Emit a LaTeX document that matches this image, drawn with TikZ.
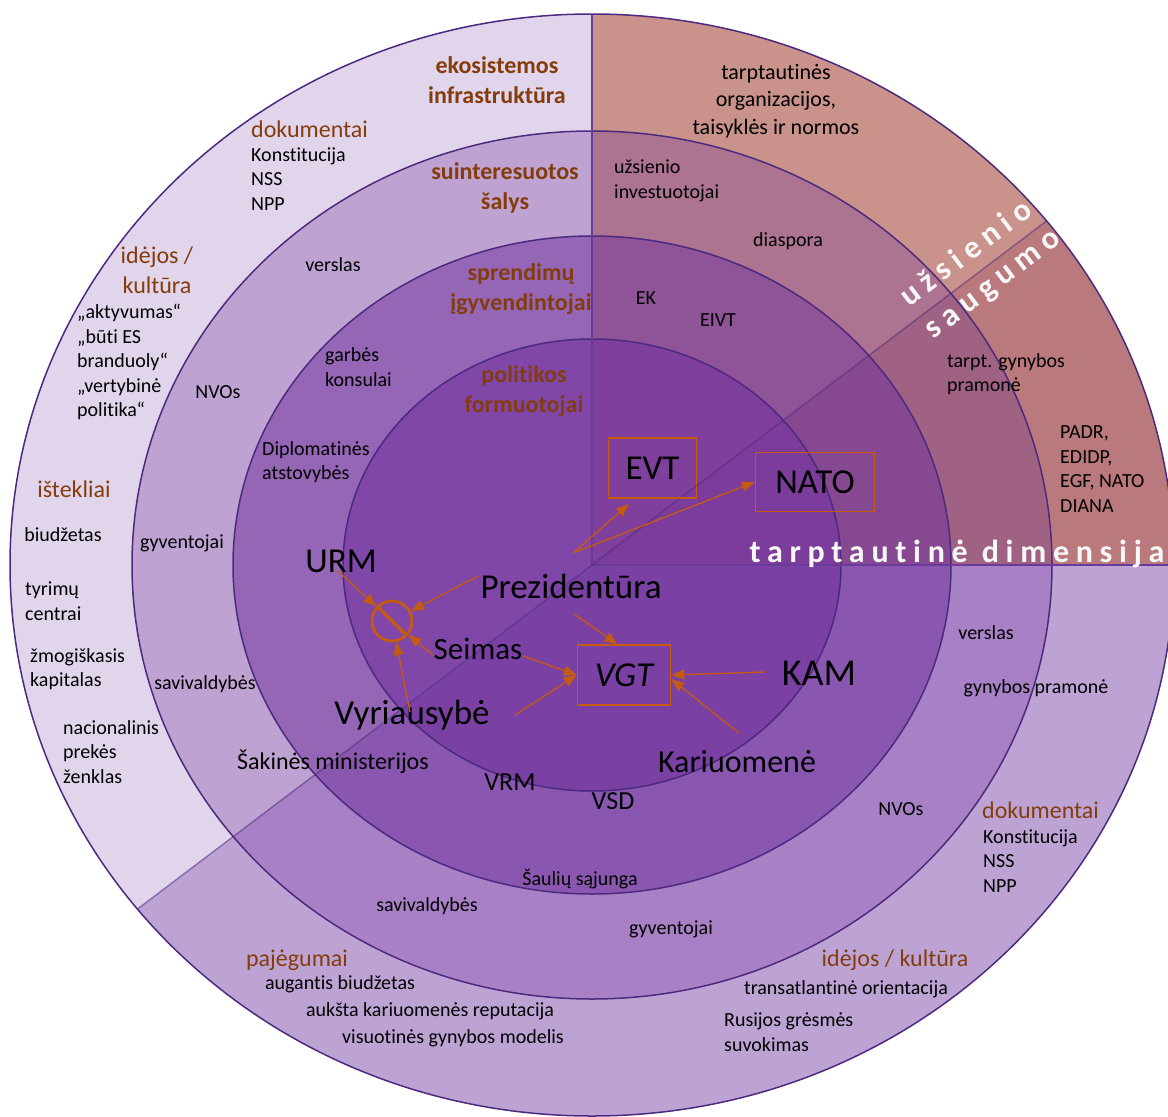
\documentclass[tikz,border=0pt]{standalone}
\usepackage{fontspec}
\setmainfont{Carlito}[Ligatures=NoCommon]
\newfontfamily\spacedfont[LetterSpace=21,Ligatures=NoCommon]{Carlito}
\usetikzlibrary{arrows.meta,calc}
\definecolor{brownhd}{HTML}{843C0C}
\definecolor{orng}{HTML}{C55A11}
\definecolor{ringline}{HTML}{4C2A7F}
\definecolor{axisline}{HTML}{6A3A9A}
\definecolor{aA}{HTML}{E1D5EC}\definecolor{aB}{HTML}{BEA2D2}\definecolor{aC}{HTML}{9466B5}\definecolor{aD}{HTML}{8047A8}
\definecolor{bA}{HTML}{BDA3D4}\definecolor{bB}{HTML}{A780C5}\definecolor{bC}{HTML}{8A57B0}\definecolor{bD}{HTML}{7A40A4}
\definecolor{cA}{HTML}{C9928A}\definecolor{cB}{HTML}{AD7491}\definecolor{cC}{HTML}{8F5397}\definecolor{cD}{HTML}{7E3F9D}
\definecolor{dA}{HTML}{BA797C}\definecolor{dB}{HTML}{A06283}\definecolor{dC}{HTML}{874892}\definecolor{dD}{HTML}{7C3C9B}
\begin{document}
\begin{tikzpicture}[x=1pt,y=-1pt,
  lbl/.style={font=\fontsize{20}{24.5}\selectfont, inner sep=0pt, align=left},
  hdr/.style={font=\fontsize{24}{30}\selectfont, text=brownhd, inner sep=0pt, align=center},
  bhd/.style={font=\bfseries\fontsize{24}{30.5}\selectfont, text=brownhd, inner sep=0pt, align=center},
  actor/.style={inner sep=0pt, font=\fontsize{35}{40}\selectfont},
  midlbl/.style={inner sep=0pt, font=\fontsize{24}{28}\selectfont},
  boxn/.style={draw=orng, line width=1.5pt, inner sep=0pt, font=\fontsize{35}{40}\selectfont},
  arr/.style={draw=orng, line width=1.3pt, -{Triangle[length=13pt,width=10pt]}},
  wt/.style={text=white!94!gray, font=\spacedfont\bfseries\fontsize{32}{34}\selectfont, inner sep=0pt},
  rings/.style={draw=ringline, line width=1.5pt}
]
\useasboundingbox (0,0) rectangle (1168,1117);
\clip (0,0) rectangle (1168,1117);
\fill[white] (0,0) rectangle (1168,1117);
% sector A (national, foreign)
\begin{scope}
\clip (592,565) -- (592,-3000) -- (-3000,-3000) -- (-3000,3284) -- cycle;
\fill[aA] (592,565) ellipse [x radius=582pt, y radius=551pt];
\fill[aB] (592,565) ellipse [x radius=460pt, y radius=434pt];
\fill[aC] (592,565) ellipse [x radius=359pt, y radius=329pt];
\fill[aD] (592,565) ellipse [x radius=249pt, y radius=226pt];
\end{scope}
% sector B (national, security)
\begin{scope}
\clip (592,565) -- (-3000,3284) -- (-3000,5000) -- (5000,5000) -- (5000,565) -- cycle;
\fill[bA] (592,565) ellipse [x radius=582pt, y radius=551pt];
\fill[bB] (592,565) ellipse [x radius=460pt, y radius=434pt];
\fill[bC] (592,565) ellipse [x radius=359pt, y radius=329pt];
\fill[bD] (592,565) ellipse [x radius=249pt, y radius=226pt];
\end{scope}
% sector C (international, foreign)
\begin{scope}
\clip (592,565) -- (592,-3000) -- (5000,-3000) -- (5000,-2772) -- cycle;
\fill[cA] (592,565) ellipse [x radius=582pt, y radius=551pt];
\fill[cB] (592,565) ellipse [x radius=460pt, y radius=434pt];
\fill[cC] (592,565) ellipse [x radius=359pt, y radius=329pt];
\fill[cD] (592,565) ellipse [x radius=249pt, y radius=226pt];
\end{scope}
% sector D (international, security)
\begin{scope}
\clip (592,565) -- (5000,-2772) -- (5000,565) -- cycle;
\fill[dA] (592,565) ellipse [x radius=582pt, y radius=551pt];
\fill[dB] (592,565) ellipse [x radius=460pt, y radius=434pt];
\fill[dC] (592,565) ellipse [x radius=359pt, y radius=329pt];
\fill[dD] (592,565) ellipse [x radius=249pt, y radius=226pt];
\end{scope}
% ring outlines
\draw[rings] (592,565) ellipse [x radius=582pt, y radius=551pt];
\draw[rings] (592,565) ellipse [x radius=460pt, y radius=434pt];
\draw[rings] (592,565) ellipse [x radius=359pt, y radius=329pt];
\draw[rings] (592,565) ellipse [x radius=249pt, y radius=226pt];
% dividing lines
\draw[axisline, line width=1.5pt] (592,14) -- (592,565) -- (1180,565);
\draw[ringline, opacity=0.55, line width=1.4pt] (137.4,909.1) -- (1046.6,220.9);

% ---- texts, upper-left
\node[bhd] (eko) at (497,80) {ekosistemos\\infrastruktūra};
\node[hdr, anchor=west] (dok1) at (251,129) {dokumentai};
\node[lbl, anchor=west] (dok1l) at (251,179) {Konstitucija\\NSS\\NPP};
\node[bhd] (sui) at (505,188) {suinteresuotos\\šalys};
\node[bhd] (spr) at (521,289) {sprendimų\\įgyvendintojai};
\node[bhd] (pol) at (524,391) {politikos\\formuotojai};
\node[hdr] (ide1) at (157,270) {idėjos /\\kultūra};
\node[lbl, anchor=west] (quo) at (77,362) {„aktyvumas“\\„būti ES\\branduoly“\\„vertybinė\\politika“};
\node[hdr] (ist) at (74,489) {ištekliai};
\node[lbl] (biu) at (63,535) {biudžetas};
\node[lbl, anchor=west] (tyr) at (25,601) {tyrimų\\centrai};
\node[lbl, anchor=west] (zmo) at (30,669) {žmogiškasis\\kapitalas};
\node[lbl, anchor=west] (nac) at (63,752) {nacionalinis\\prekės\\ženklas};
\node[lbl] (ver1) at (333,265) {verslas};
\node[lbl] (nvo1) at (218,392) {NVOs};
\node[lbl] (gyv1) at (182,543) {gyventojai};
\node[lbl] (sav1) at (205,684) {savivaldybės};
\node[lbl, anchor=west] (gar) at (325,367) {garbės\\konsulai};
\node[lbl, anchor=west] (dip) at (262,462) {Diplomatinės\\atstovybės};
\node[midlbl] (sak) at (333,762) {Šakinės ministerijos};

% ---- actors
\node[actor] (urm) at (341,561) {URM};
\node[actor] (prez) at (571,586) {Prezidentūra};
\node[actor, font=\fontsize{31}{36}\selectfont] (seim) at (478,649) {Seimas};
\node[actor] (vyr) at (412,715) {Vyriausybė};
\node[midlbl, font=\fontsize{26}{30}\selectfont] (vrm) at (510,782) {VRM};
\node[midlbl, font=\fontsize{26}{30}\selectfont] (vsd) at (613,801) {VSD};
\node[actor, font=\fontsize{32}{36}\selectfont] (kar) at (737,762) {Kariuomenė};
\node[actor, font=\fontsize{38}{42}\selectfont] (kam) at (819,673) {KAM};
\node[boxn, minimum width=93pt, minimum height=60pt, font=\itshape\fontsize{35}{40}\selectfont] (vgt) at (624,675) {VGT};
\node[boxn, minimum width=88pt, minimum height=60pt] (evt) at (652.5,468) {EVT};
\node[boxn, minimum width=119pt, minimum height=59pt] (nato) at (815,482) {NATO};
\node[circle, draw=orng, line width=2.8pt, minimum size=40pt, inner sep=0pt] (ban) at (392,621) {};
\draw[orng, line width=3.3pt] (ban.north west) -- (ban.south east);

% ---- arrows
\coordinate (urmS) at (338,571);
\coordinate (prezA) at (478,576);
\coordinate (seimA) at (433,655);
\coordinate (vyrA) at (410,712);
\coordinate (seimB) at (523,656);
\coordinate (vyrB) at (515,715);
\coordinate (prezB) at (574,614);
\coordinate (kamA) at (765,672);
\coordinate (karA) at (739,733);
\coordinate (prezC) at (573,553);
\coordinate (evtTip) at (629,504);
\draw[arr] (urmS) -- (ban);
\draw[arr] (prezA) -- (ban);
\draw[arr] (seimA) -- (ban);
\draw[arr] (vyrA) -- (ban);
\draw[arr] (seimB) -- (vgt.west);
\draw[arr] (vyrB) -- (vgt.west);
\draw[arr] (prezB) -- ($(vgt.north west)!0.43!(vgt.north east)$);
\draw[arr] (kamA) -- (vgt.east);
\draw[arr] (karA) -- ($(vgt.east)+(0,4)$);
\draw[arr] (prezC) -- (evtTip);
\draw[arr] (prezC) -- (nato.west);

% ---- upper-right
\node[lbl, font=\fontsize{22}{27.5}\selectfont, align=center] (tio) at (776,101) {tarptautinės\\organizacijos,\\taisyklės ir normos};
\node[lbl, anchor=west] (uzi) at (614,181) {užsienio\\investuotojai};
\node[lbl] (dia) at (788,241) {diaspora};
\node[lbl] (ek) at (646,298) {EK};
\node[lbl] (eivt) at (718,320) {EIVT};
\node[lbl, anchor=west] (tgp) at (947,374) {tarpt. gynybos\\pramonė};
\node[lbl, anchor=west] (padr) at (1060,469) {PADR,\\EDIDP,\\EGF, NATO\\DIANA};
\node[wt, anchor=base] (tdim) at (957,562) {tarptautinė dimensija};
\node[wt, rotate=37] (uzs) at (965,252) {užsienio};
\node[wt, rotate=37] (saug) at (995,287) {saugumo};

% ---- lower
\node[lbl] (ver2) at (986,633) {verslas};
\node[lbl] (gyn2) at (1036,688) {gynybos pramonė};
\node[lbl] (nvo2) at (901,809) {NVOs};
\node[hdr, anchor=west] (dok2) at (982,810) {dokumentai};
\node[lbl, anchor=west] (dok2l) at (983,861) {Konstitucija\\NSS\\NPP};
\node[lbl] (sau) at (580,879) {Šaulių sąjunga};
\node[lbl] (sav2) at (427,906) {savivaldybės};
\node[lbl] (gyv2) at (671,929) {gyventojai};
\node[hdr] (ide2) at (895,960) {idėjos / kultūra};
\node[lbl] (tra) at (846,989) {transatlantinė orientacija};
\node[lbl, anchor=west] (rus) at (724,1032) {Rusijos grėsmės\\suvokimas};
\node[hdr] (paj) at (297,960) {pajėgumai};
\node[lbl] (aug) at (340,984) {augantis biudžetas};
\node[lbl] (auk) at (430,1011) {aukšta kariuomenės reputacija};
\node[lbl] (vis) at (453,1038) {visuotinės gynybos modelis};
\end{tikzpicture}
\end{document}
